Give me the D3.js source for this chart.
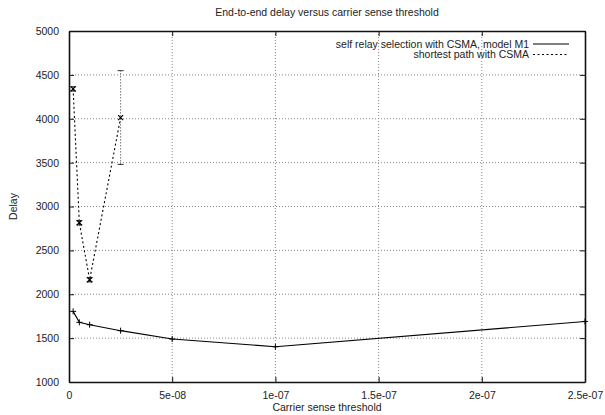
<!DOCTYPE html>
<html>
<head>
<meta charset="utf-8">
<script src="https://cdn.jsdelivr.net/npm/d3@7"></script>
<style>
  body { margin: 0; background: #fff; }
  text { font-family: "Liberation Sans", Arial, sans-serif; fill: #222; }
</style>
</head>
<body>
<svg width="605" height="415"></svg>
<script>
// data
var xTicks = [0, 5e-8, 1e-7, 1.5e-7, 2e-7, 2.5e-7];
var xTickLabels = ["0", "5e-08", "1e-07", "1.5e-07", "2e-07", "2.5e-07"];
var yTicks = [1000, 1500, 2000, 2500, 3000, 3500, 4000, 4500, 5000];

var relayX = [2e-9, 5e-9, 1e-8, 2.5e-8, 5e-8, 1e-7, 2.5e-7];
var relayDelay = [1805, 1680, 1653, 1585, 1490, 1402, 1690];

var shortX = [2e-9, 5e-9, 1e-8, 2.5e-8];
var shortDelay = [4340, 2815, 2165, 4012];
var shortLow = [4315, 2790, 2140, 3480];
var shortHigh = [4365, 2840, 2190, 4548];

var svg = d3.select("svg"),
    pLeft = 69, pRight = 585, pTop = 31, pBottom = 382;

var x = d3.scaleLinear().domain([0, 2.5e-7]).range([pLeft, pRight]);
var y = d3.scaleLinear().domain([1000, 5000]).range([pBottom, pTop]);

// grid
var grid = svg.append("g")
    .attr("stroke", "#888")
    .attr("stroke-width", 1)
    .attr("stroke-dasharray", "1,2");
grid.selectAll("line.gx")
    .data(xTicks.slice(1, -1))
    .enter().append("line")
    .attr("x1", d => x(d)).attr("x2", d => x(d))
    .attr("y1", pTop).attr("y2", pBottom);
grid.selectAll("line.gy")
    .data(yTicks.slice(1, -1))
    .enter().append("line")
    .attr("x1", pLeft).attr("x2", pRight)
    .attr("y1", d => y(d)).attr("y2", d => y(d));

// axes with inward ticks on all four sides
var fmtX = function(d, i) { return xTickLabels[i]; };
svg.append("g")
    .attr("transform", "translate(0," + pBottom + ")")
    .call(d3.axisBottom(x).tickValues(xTicks).tickFormat(fmtX).tickSizeInner(-5).tickSizeOuter(0).tickPadding(10));
svg.append("g")
    .attr("transform", "translate(0," + pTop + ")")
    .call(d3.axisTop(x).tickValues(xTicks).tickFormat("").tickSizeInner(-5).tickSizeOuter(0));
svg.append("g")
    .attr("transform", "translate(" + pLeft + ",0)")
    .call(d3.axisLeft(y).tickValues(yTicks).tickFormat(d3.format("d")).tickSizeInner(-5).tickSizeOuter(0).tickPadding(10));
svg.append("g")
    .attr("transform", "translate(" + pRight + ",0)")
    .call(d3.axisRight(y).tickValues(yTicks).tickFormat("").tickSizeInner(-5).tickSizeOuter(0));

svg.selectAll(".domain").attr("stroke", "#111").attr("stroke-width", 1.6);
svg.selectAll(".tick line").attr("stroke", "#111");
svg.selectAll(".tick text").style("font-size", "10.5px").attr("fill", "#222");

// series 1: self relay selection (solid, + markers)
var relay = relayX.map((d, i) => [d, relayDelay[i]]);
var line = d3.line().x(d => x(d[0])).y(d => y(d[1]));
svg.append("path")
    .datum(relay)
    .attr("fill", "none")
    .attr("stroke", "#000")
    .attr("stroke-width", 1.1)
    .attr("d", line);
svg.selectAll("path.plus")
    .data(relay)
    .enter().append("path")
    .attr("class", "plus")
    .attr("stroke", "#000")
    .attr("stroke-width", 1)
    .attr("d", d => {
        var cx = x(d[0]), cy = y(d[1]);
        return "M" + (cx - 3) + "," + cy + "H" + (cx + 3) + "M" + cx + "," + (cy - 3) + "V" + (cy + 3);
    });

// series 2: shortest path (dotted, x markers, error bars)
var shortest = shortX.map((d, i) => ({ x: d, y: shortDelay[i], lo: shortLow[i], hi: shortHigh[i] }));
svg.append("path")
    .datum(shortest.map(d => [d.x, d.y]))
    .attr("fill", "none")
    .attr("stroke", "#000")
    .attr("stroke-width", 1.1)
    .attr("stroke-dasharray", "2,2.5")
    .attr("d", line);
var eb = svg.append("g").attr("stroke", "#333").attr("stroke-width", 1);
eb.selectAll("path.bar")
    .data(shortest)
    .enter().append("path")
    .attr("class", "bar")
    .attr("fill", "none")
    .attr("stroke-dasharray", d => (y(d.lo) - y(d.hi) > 15 ? "1,2" : null))
    .attr("d", d => {
        var cx = x(d.x);
        return "M" + cx + "," + y(d.lo) + "V" + y(d.hi);
    });
eb.selectAll("path.cap")
    .data(shortest)
    .enter().append("path")
    .attr("class", "cap")
    .attr("d", d => {
        var cx = x(d.x);
        return "M" + (cx - 3) + "," + y(d.lo) + "H" + (cx + 3) + "M" + (cx - 3) + "," + y(d.hi) + "H" + (cx + 3);
    });
svg.selectAll("path.cross")
    .data(shortest)
    .enter().append("path")
    .attr("class", "cross")
    .attr("stroke", "#000")
    .attr("stroke-width", 1.2)
    .attr("d", d => {
        var cx = x(d.x), cy = y(d.y);
        return "M" + (cx - 2.5) + "," + (cy - 2.5) + "L" + (cx + 2.5) + "," + (cy + 2.5) +
               "M" + (cx - 2.5) + "," + (cy + 2.5) + "L" + (cx + 2.5) + "," + (cy - 2.5);
    });

// legend
var legend = [
    { label: "self relay selection with CSMA, model M1", dash: null },
    { label: "shortest path with CSMA", dash: "2,2.5" }
];
var lg = svg.selectAll("g.legend")
    .data(legend)
    .enter().append("g")
    .attr("class", "legend")
    .attr("transform", (d, i) => "translate(0," + (44 + i * 10.5) + ")");
lg.append("text")
    .attr("x", 529)
    .attr("dy", "0.35em")
    .attr("text-anchor", "end")
    .style("font-size", "10.5px")
    .text(d => d.label);
lg.append("line")
    .attr("x1", 533).attr("x2", 569)
    .attr("stroke", "#000")
    .attr("stroke-width", 1.1)
    .attr("stroke-dasharray", d => d.dash);

// titles
svg.append("text")
    .attr("x", (pLeft + pRight) / 2)
    .attr("y", 16)
    .attr("text-anchor", "middle")
    .style("font-size", "10.5px")
    .text("End-to-end delay versus carrier sense threshold");
svg.append("text")
    .attr("x", (pLeft + pRight) / 2)
    .attr("y", 411)
    .attr("text-anchor", "middle")
    .style("font-size", "10.5px")
    .text("Carrier sense threshold");
svg.append("text")
    .attr("transform", "translate(17," + (pTop + pBottom) / 2 + ") rotate(-90)")
    .attr("text-anchor", "middle")
    .style("font-size", "10.5px")
    .text("Delay");
</script>
</body>
</html>
